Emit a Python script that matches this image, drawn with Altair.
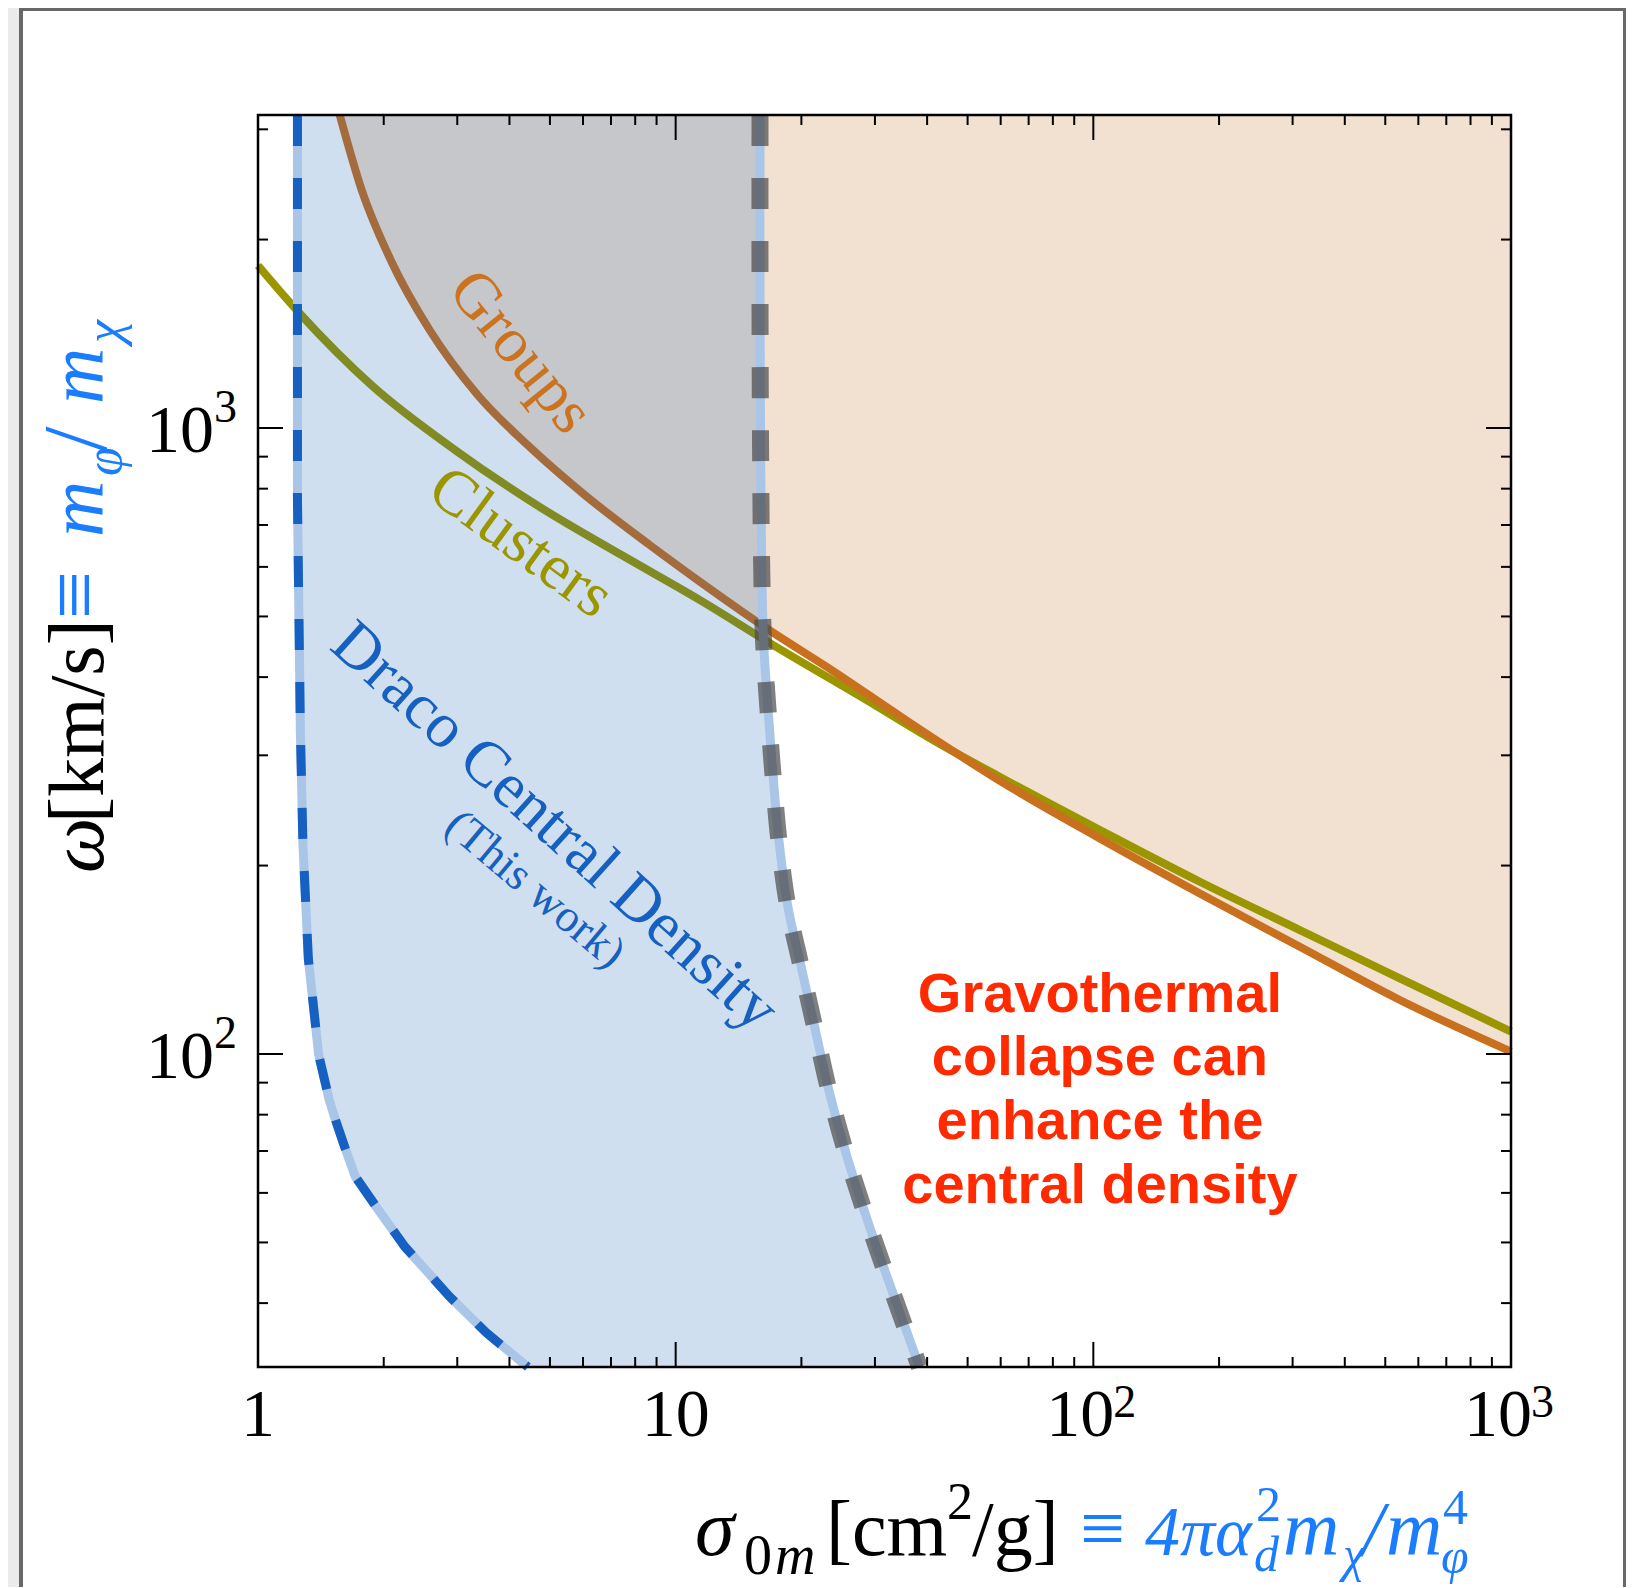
import altair as alt
import pandas as pd

# ---------------- data ----------------
X_DOMAIN = [1.0, 1000.0]
Y_DOMAIN = [31.623, 3162.3]

groups_x = [1.569, 1.771, 2.089, 2.576, 3.357, 4.470, 6.053, 8.66, 11.41, 16.48,
            23.78, 34.36, 59.6, 103.4, 179.4, 311.3, 540.2, 1000.0]
groups_y = [3162.3, 2400, 1842, 1434, 1129, 932.7, 782.0, 650.5, 568.5, 478.9,
            409.3, 346.9, 273.4, 221.2, 180.7, 148.5, 122.1, 100.9]

clusters_x = [1.0, 1.243, 1.885, 2.985, 4.723, 7.475, 11.41, 17.08, 28.59, 42.81,
              59.6, 103.4, 179.4, 311.3, 540.2, 1000.0]
clusters_y = [1818, 1538, 1165, 919.2, 748.2, 624.9, 531.5, 450.4, 367.9, 313.0,
              277.3, 228.1, 188.6, 157.9, 132.2, 108.6]

draco_left_x = [1.243, 1.243, 1.253, 1.263, 1.281, 1.320, 1.397, 1.480, 1.524,
                1.612, 1.710, 1.919, 2.248, 2.873, 3.516, 4.426]
draco_left_y = [3162.3, 767.7, 503.3, 330.1, 216.4, 141.9, 99.8, 84.6, 79.4,
                71.1, 63.7, 57.0, 49.2, 41.0, 35.9, 31.623]

draco_right_x = [15.92, 15.92, 15.97, 16.06, 16.23, 16.62, 17.09, 17.66, 18.56,
                 19.80, 21.50, 23.36, 25.84, 29.12, 33.11, 38.35]
draco_right_y = [3162.3, 1601, 922.6, 615.9, 458.6, 358.9, 280.9, 219.9, 172.0,
                 141.5, 110.7, 86.6, 67.8, 53.0, 41.5, 31.623]

x_tick_values = [1, 10, 100, 1000]
x_tick_base = ["1", "10", "10", "10"]
x_tick_exp = ["", "", "2", "3"]
x_minor_ticks = [2, 3, 4, 5, 6, 7, 8, 9, 20, 30, 40, 50, 60, 70, 80, 90,
                 200, 300, 400, 500, 600, 700, 800, 900]
y_tick_values = [100, 1000]
y_tick_base = ["10", "10"]
y_tick_exp = ["2", "3"]
y_minor_ticks = [40, 50, 60, 70, 80, 90, 200, 300, 400, 500, 600, 700, 800, 900,
                 2000, 3000]

label_groups = {"x": [4.255], "y": [1323], "t": ["Groups"]}
label_clusters = {"x": [4.255], "y": [655.4], "t": ["Clusters"]}
label_draco = {"x": [5.13], "y": [230.6], "t": ["Draco Central Density"]}
label_thiswork = {"x": [4.609], "y": [183.3], "t": ["(This work)"]}
grav_lines = ["Gravothermal", "collapse can", "enhance the", "central density"]
grav_x = [103.7, 103.7, 103.7, 103.7]
grav_y = [124.4, 98.6, 77.96, 61.6]

# ---------------- layout ----------------
W, H = 1253, 1252
OX, OY = 258, 115          # page position of the plot origin

xs = alt.Scale(type="log", domain=X_DOMAIN, nice=False)
ys = alt.Scale(type="log", domain=Y_DOMAIN, nice=False)


def xenc(f="x"):
    return alt.X(f"{f}:Q", scale=xs, axis=None)


def yenc(f="y"):
    return alt.Y(f"{f}:Q", scale=ys, axis=None)


dummy = pd.DataFrame({"a": [0]})

# white panel with grey border
panel = alt.Chart(dummy).mark_rect(fill="white", stroke="#686868", strokeWidth=4).encode(
    x=alt.value(21 - OX), x2=alt.value(1625 - OX),
    y=alt.value(9 - OY), y2=alt.value(1640 - OY))

# groups excluded region
df_groups = pd.DataFrame({"x": groups_x, "y": groups_y})
df_groups["top"] = Y_DOMAIN[1]
groups_fill = alt.Chart(df_groups).mark_area(
    fill="#f2e1d1", orient="vertical", interpolate="monotone").encode(
    x=xenc(), y=yenc(), y2=alt.Y2("top"))
groups_line = alt.Chart(df_groups).mark_line(
    color="#c8701e", strokeWidth=8, interpolate="monotone").encode(
    x=xenc(), y=yenc())

df_clusters = pd.DataFrame({"x": clusters_x, "y": clusters_y})
clusters_line = alt.Chart(df_clusters).mark_line(
    color="#9b9600", strokeWidth=8, interpolate="monotone").encode(
    x=xenc(), y=yenc())

# Draco band (built from left and right boundaries, already ordered by x)
rows = []
for xv, yv in zip(draco_left_x, draco_left_y):
    rows.append({"x": xv, "lo": yv, "hi": Y_DOMAIN[1]})
rows.append({"x": draco_right_x[0], "lo": Y_DOMAIN[0], "hi": Y_DOMAIN[1]})
for xv, yv in zip(draco_right_x, draco_right_y):
    rows.append({"x": xv, "lo": Y_DOMAIN[0], "hi": yv})
df_band = pd.DataFrame(rows)
band = alt.Chart(df_band).mark_area(
    fill="#145fb4", fillOpacity=0.2, orient="vertical").encode(
    x=xenc(), y=yenc("lo"), y2=alt.Y2("hi"))

df_left = pd.DataFrame({"x": draco_left_x, "y": draco_left_y, "i": range(len(draco_left_x))})
df_right = pd.DataFrame({"x": draco_right_x, "y": draco_right_y, "i": range(len(draco_right_x))})

left_soft = alt.Chart(df_left).mark_line(color="#a9c5e8", strokeWidth=9).encode(
    x=xenc(), y=yenc(), order="i:Q")
right_soft = alt.Chart(df_right).mark_line(
    color="#a9c5e8", strokeWidth=9, interpolate="catmull-rom").encode(
    x=xenc(), y=yenc(), order="i:Q")
left_dash = alt.Chart(df_left).mark_line(color="#1560c0", strokeWidth=9,
                                         strokeDash=[31, 32], strokeCap="butt").encode(
    x=xenc(), y=yenc(), order="i:Q")
right_dash = alt.Chart(df_right).mark_line(color="#4a4a4a", opacity=0.7, strokeWidth=17,
                                           strokeDash=[31, 32], strokeCap="butt",
                                           interpolate="catmull-rom").encode(
    x=xenc(), y=yenc(), order="i:Q")

# inward ticks as rules (positions through the scales)
df_xmaj = pd.DataFrame({"x": x_tick_values, "b": x_tick_base, "e": x_tick_exp})
df_xmin = pd.DataFrame({"x": x_minor_ticks})
df_ymaj = pd.DataFrame({"y": y_tick_values, "b": y_tick_base, "e": y_tick_exp})
df_ymin = pd.DataFrame({"y": y_minor_ticks})

tick_layers = []
rule = dict(color="black", strokeWidth=2)
for yy0, yy1 in [(H, H - 25), (0, 25)]:
    tick_layers.append(alt.Chart(df_xmaj).mark_rule(**rule).encode(
        x=xenc(), y=alt.value(yy0), y2=alt.value(yy1)))
for yy0, yy1 in [(H, H - 10), (0, 10)]:
    tick_layers.append(alt.Chart(df_xmin).mark_rule(**rule).encode(
        x=xenc(), y=alt.value(yy0), y2=alt.value(yy1)))
for xx0, xx1 in [(0, 25), (W, W - 25)]:
    tick_layers.append(alt.Chart(df_ymaj).mark_rule(**rule).encode(
        y=yenc(), x=alt.value(xx0), x2=alt.value(xx1)))
for xx0, xx1 in [(0, 10), (W, W - 10)]:
    tick_layers.append(alt.Chart(df_ymin).mark_rule(**rule).encode(
        y=yenc(), x=alt.value(xx0), x2=alt.value(xx1)))

# tick labels: plain numbers and powers of ten (base + superscript)
lab = dict(font="Liberation Serif", color="black")
xl_plain = df_xmaj[df_xmaj["e"] == ""]
xl_pow = df_xmaj[df_xmaj["e"] != ""]
label_layers = [
    alt.Chart(xl_plain).mark_text(fontSize=68, align="center", baseline="alphabetic", **lab).encode(
        x=xenc(), y=alt.value(H + 69), text="b:N"),
    alt.Chart(xl_pow).mark_text(fontSize=68, align="center", baseline="alphabetic", dx=-13, **lab).encode(
        x=xenc(), y=alt.value(H + 69), text="b:N"),
    alt.Chart(xl_pow).mark_text(fontSize=46, align="left", baseline="alphabetic", dx=20, **lab).encode(
        x=xenc(), y=alt.value(H + 50), text="e:N"),
    alt.Chart(df_ymaj).mark_text(fontSize=68, align="right", baseline="alphabetic", dy=24, **lab).encode(
        y=yenc(), x=alt.value(-44), text="b:N"),
    alt.Chart(df_ymaj).mark_text(fontSize=46, align="left", baseline="alphabetic", dy=-6, **lab).encode(
        y=yenc(), x=alt.value(-44), text="e:N"),
]

frame = alt.Chart(dummy).mark_rect(filled=False, stroke="black", strokeWidth=2.5).encode(
    x=alt.value(0), x2=alt.value(W), y=alt.value(0), y2=alt.value(H))


def ann(d, color, angle, size):
    return alt.Chart(pd.DataFrame(d)).mark_text(
        font="Liberation Serif", fontSize=size, color=color, angle=angle,
        align="center", baseline="middle").encode(x=xenc(), y=yenc(), text="t:N")


texts = [
    ann(label_groups, "#cc7320", 51, 64),
    ann(label_clusters, "#9b9600", 36, 64),
    ann(label_draco, "#1560c0", 42, 64),
    ann(label_thiswork, "#1560c0", 40, 46),
]
df_grav = pd.DataFrame({"x": grav_x, "y": grav_y, "t": grav_lines})
texts.append(alt.Chart(df_grav).mark_text(
    font="Liberation Sans", fontWeight="bold", fontSize=56, color="#ff2a00",
    align="center", baseline="middle").encode(x=xenc(), y=yenc(), text="t:N"))

BLUE = "#1a7dff"


def piece(s, X, Y, size, italic=False, color="black", angle=0):
    return alt.Chart(dummy).mark_text(
        text=s, font="Liberation Serif", fontSize=size,
        fontStyle="italic" if italic else "normal", color=color,
        align="left", baseline="alphabetic", angle=angle).encode(
        x=alt.value(X - OX), y=alt.value(Y - OY))


title_pieces = [
    # x-axis title
    piece("σ", 695, 1555, 80, italic=True),
    piece("0", 744, 1574, 56),
    piece("m", 775, 1574, 56, italic=True),
    piece("[cm", 826, 1555, 78),
    piece("2", 947, 1519, 52),
    piece("/g]", 972, 1555, 78),
    piece("≡", 1080, 1555, 80, color=BLUE),
    piece("4πα", 1145, 1555, 70, italic=True, color=BLUE),
    piece("2", 1256, 1521, 50, color=BLUE),
    piece("d", 1254, 1571, 50, italic=True, color=BLUE),
    piece("m", 1283, 1555, 78, italic=True, color=BLUE),
    piece("χ", 1343, 1571, 50, italic=True, color=BLUE),
    piece("/", 1362, 1555, 78, italic=True, color=BLUE),
    piece("m", 1386, 1555, 78, italic=True, color=BLUE),
    piece("4", 1443, 1524, 50, color=BLUE),
    piece("φ", 1441, 1573, 50, italic=True, color=BLUE),
    # y-axis title (rotated)
    piece("ω", 103, 873, 78, italic=True, angle=270),
    piece("[km/s]", 103, 823, 78, angle=270),
    piece("≡", 103, 619, 86, color=BLUE, angle=270),
    piece("m", 103, 537, 78, italic=True, color=BLUE, angle=270),
    piece("φ", 121, 476, 52, italic=True, color=BLUE, angle=270),
    piece("/", 106, 452, 92, color=BLUE, angle=270),
    piece("m", 103, 404, 78, italic=True, color=BLUE, angle=270),
    piece("χ", 121, 343, 52, italic=True, color=BLUE, angle=270),
]

layers = ([panel, groups_fill, clusters_line, groups_line, band,
           left_soft, right_soft, left_dash, right_dash] + tick_layers +
          [frame] + label_layers + texts + title_pieces)

chart = alt.layer(*layers).properties(
    width=W, height=H,
    autosize=alt.AutoSizeParams(type="none"),
    padding={"left": 250, "top": 107, "right": 115, "bottom": 220},
    background="#ebebeb",
).configure_view(strokeWidth=0)

chart.save("out.html", embed_options={"renderer": "svg", "actions": False})
